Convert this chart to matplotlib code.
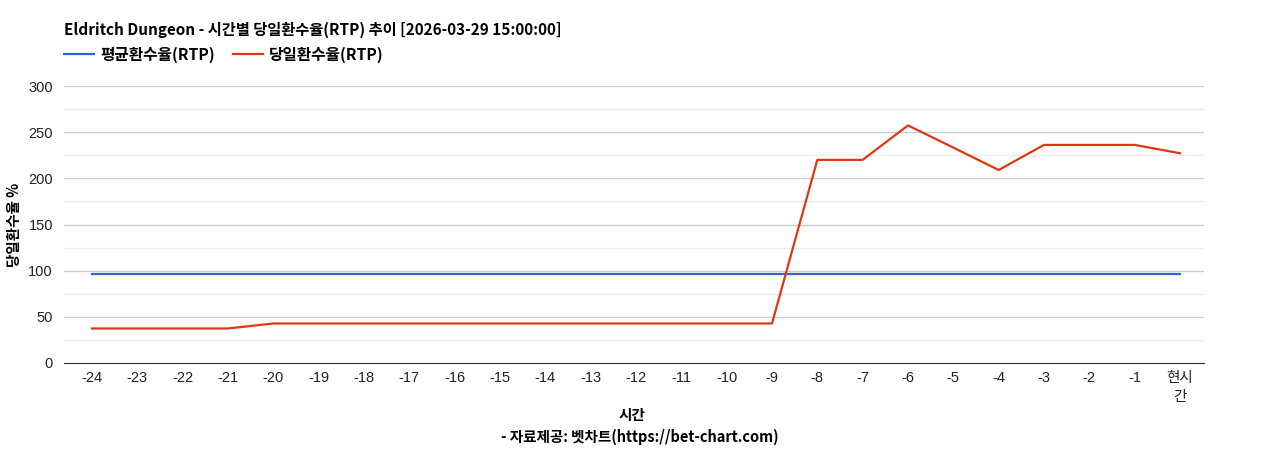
import matplotlib
matplotlib.use("Agg")
import matplotlib.pyplot as plt
from matplotlib.ticker import MultipleLocator

plt.rcParams['font.family'] = ['Liberation Sans', 'Noto Sans CJK KR', 'DejaVu Sans']

hours = ['-24', '-23', '-22', '-21', '-20', '-19', '-18', '-17', '-16', '-15', '-14', '-13',
         '-12', '-11', '-10', '-9', '-8', '-7', '-6', '-5', '-4', '-3', '-2', '-1', '현시\n간']
avg_rtp = [96.5] * 25
day_rtp = [37.4, 37.4, 37.4, 37.4, 42.8, 42.8, 42.8, 42.8, 42.8, 42.8, 42.8, 42.8,
           42.8, 42.8, 42.8, 42.8, 220, 220, 257.3, 233.3, 209, 236.2, 236.2, 236.2, 227.2]

title = 'Eldritch Dungeon - 시간별 당일환수율(RTP) 추이 [2026-03-29 15:00:00]'
kr = ['Noto Sans CJK KR', 'DejaVu Sans']

fig = plt.figure(figsize=(12.68, 4.5), dpi=100)
ax = fig.add_axes([64 / 1268, 1 - 363 / 450, 1140 / 1268, 277 / 450])

x = range(len(hours))
l1, = ax.plot(x, avg_rtp, color='#3366cc', lw=1.6)
l2, = ax.plot(x, day_rtp, color='#dc3912', lw=1.6)

ax.set_ylim(0, 300)
ax.set_xlim(-0.618, 24.53)
ax.yaxis.set_major_locator(MultipleLocator(50))
ax.yaxis.set_minor_locator(MultipleLocator(25))
ax.grid(axis='y', which='major', color='#cccccc', lw=1)
ax.grid(axis='y', which='minor', color='#ebebeb', lw=1)
ax.set_axisbelow(True)
for s in ['top', 'right', 'left']:
    ax.spines[s].set_visible(False)
ax.spines['bottom'].set_color('#333333')
ax.tick_params(axis='both', which='both', length=0, labelsize=10.5, colors='#222222')
ax.tick_params(axis='y', pad=8)
ax.tick_params(axis='x', pad=6)
ax.set_xticks(list(x))
ax.set_xticklabels(hours, linespacing=1.45)

ax.set_ylabel('당일환수율 %', family=kr, fontsize=10.5, fontweight='bold')
ax.yaxis.set_label_coords(-(64 - 22) / 1140, 0.5)
fig.text(632 / 1268, 1 - 415 / 450, '시간', family=kr, fontsize=10.5,
         fontweight='bold', ha='center', va='center')
fig.text(640 / 1268, 1 - 437 / 450, '- 자료제공: 벳차트(https://bet-chart.com)',
         family=kr, fontsize=10.5, fontweight='bold', ha='center', va='center')
fig.text(64 / 1268, 1 - 30 / 450, title, family=kr, fontsize=11, fontweight='bold',
         ha='left', va='center')

leg = fig.legend([l1, l2], ['평균환수율(RTP)', '당일환수율(RTP)'], loc='center left',
                 bbox_to_anchor=(61 / 1268, 1 - 55 / 450), ncol=2, frameon=False,
                 prop={'family': kr, 'size': 11.3, 'weight': 'bold'},
                 handlelength=1.9, columnspacing=1.15, handletextpad=0.38,
                 borderaxespad=0, borderpad=0.2)

fig.savefig('out.png', dpi=100)
